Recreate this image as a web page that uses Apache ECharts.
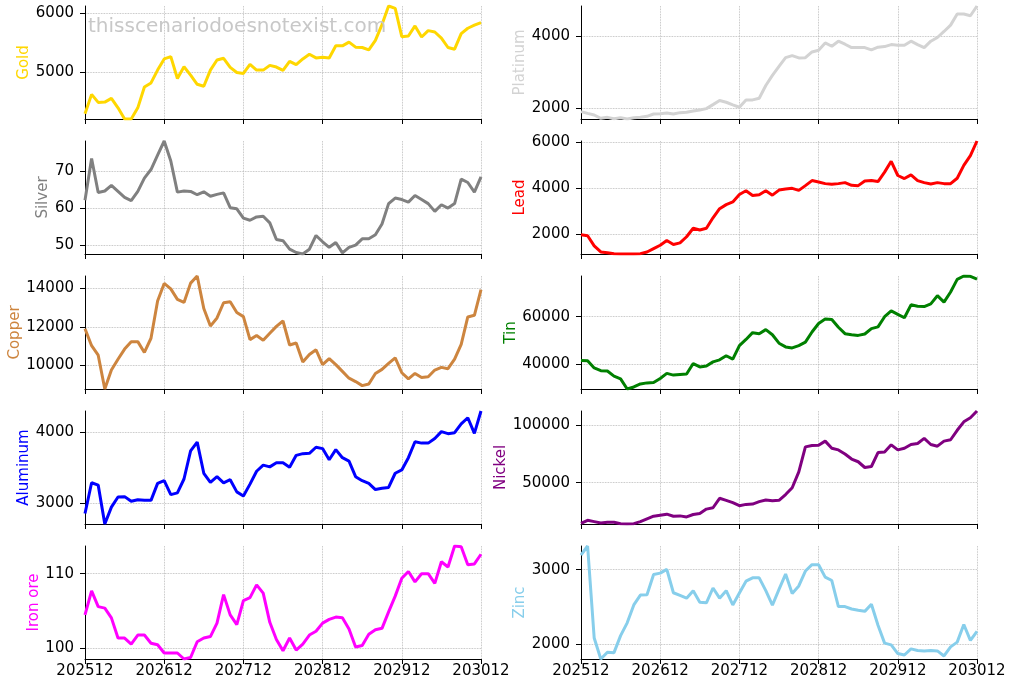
<!DOCTYPE html>
<html>
<head>
<meta charset="utf-8">
<script src="https://cdn.jsdelivr.net/npm/echarts@6/dist/echarts.min.js"></script>
<style>
  html, body { margin: 0; padding: 0; background: #fff; }
  #chart { width: 1013px; height: 688px; }
</style>
</head>
<body>
<div id="chart"></div>
<script>
  // monthly categories 202512 .. 203012
  const months = [];
  for (let y = 2025, m = 12; y * 100 + m <= 203012; m++) {
    if (m > 12) { m = 1; y++; }
    months.push(String(y * 100 + m));
  }

  const gold = [4300,4625,4490,4495,4557,4398,4210,4210,4398,4750,4818,5034,5222,5261,4892,5091,4949,4795,4761,5034,5205,5233,5080,4994,4977,5131,5034,5034,5114,5085,5028,5182,5125,5222,5301,5239,5250,5239,5443,5443,5506,5420,5415,5375,5534,5801,6114,6074,5597,5608,5778,5591,5699,5676,5574,5415,5386,5648,5739,5790,5835];
  const platinum = [1897,1850,1804,1710,1738,1701,1729,1692,1729,1738,1766,1832,1841,1860,1832,1869,1879,1916,1944,1981,2093,2206,2159,2084,2019,2224,2224,2271,2626,2906,3159,3402,3458,3393,3402,3561,3607,3813,3720,3860,3776,3682,3682,3682,3617,3692,3710,3766,3748,3748,3860,3766,3682,3860,3963,4131,4308,4617,4617,4570,4841];
  const silver = [62.2,73.5,64.3,64.7,66.2,64.6,63.0,62.1,64.6,68.2,70.5,74.4,78.2,72.8,64.4,64.7,64.6,63.7,64.5,63.3,63.8,64.2,60.2,59.9,57.4,56.8,57.7,57.9,56.1,51.6,51.3,49.0,48.1,47.7,49.0,52.7,51.0,49.5,50.8,48.0,49.5,50.1,51.8,51.8,52.9,55.8,61.3,62.8,62.4,61.7,63.5,62.4,61.3,59.2,61.0,60.1,61.3,67.9,67.0,64.4,68.5];
  const lead = [1985,1941,1500,1235,1206,1162,1147,1147,1147,1162,1235,1382,1529,1735,1559,1632,1897,2265,2191,2265,2721,3118,3294,3412,3735,3897,3691,3721,3897,3706,3926,3971,4000,3912,4118,4338,4279,4206,4176,4206,4250,4132,4118,4324,4338,4294,4706,5176,4559,4426,4588,4338,4250,4191,4250,4206,4206,4441,5000,5426,6059];
  const copper = [11895,11018,10526,8772,9754,10316,10842,11228,11228,10667,11404,13333,14246,13965,13421,13263,14263,14632,12947,12035,12456,13246,13298,12737,12526,11333,11544,11298,11667,12018,12298,11053,11158,10175,10561,10807,10035,10351,10035,9684,9333,9158,8947,9035,9579,9789,10105,10386,9614,9298,9579,9368,9404,9754,9895,9825,10316,11088,12509,12596,13930];
  const tin = [41571,41429,38429,37286,37143,35000,33857,29571,30429,31714,32143,32286,34000,36143,35429,35714,35857,40286,38857,39286,41000,41857,43571,42143,47857,50429,53286,52857,54571,52429,48857,47286,46857,47857,49286,53571,57143,59000,58857,55571,52857,52429,52143,52714,55000,55714,60000,62429,61000,59571,65000,64429,64286,65429,68857,66143,70429,75714,77143,77000,75857];
  const aluminum = [2857,3290,3257,2710,2948,3090,3095,3029,3052,3043,3043,3281,3319,3124,3148,3343,3738,3862,3424,3295,3376,3290,3333,3162,3105,3271,3452,3538,3514,3571,3571,3510,3676,3700,3705,3790,3771,3614,3757,3643,3595,3376,3319,3281,3195,3214,3224,3424,3471,3643,3867,3848,3848,3914,4010,3981,3995,4119,4205,3986,4300];
  const nickel = [14912,17544,16374,15205,15789,15789,14620,14327,14620,16374,18713,21053,21930,22807,21053,21345,20468,22515,23392,27193,28363,36550,34795,32749,30117,31286,31579,33626,35088,34503,34795,39766,45614,59357,80994,82164,82456,85965,79825,78363,74854,70468,68129,63158,64035,76023,76608,82749,78363,79825,83041,83918,88304,83041,81579,85965,87135,95322,102632,106140,111988];
  const ironOre = [104.5,107.7,105.6,105.4,104.1,101.4,101.4,100.6,101.8,101.8,100.7,100.5,99.4,99.4,99.4,98.6,98.8,100.9,101.4,101.6,103.4,107.2,104.5,103.2,106.4,106.8,108.5,107.4,103.5,101.2,99.7,101.4,99.8,100.6,101.8,102.3,103.4,103.9,104.2,104.1,102.6,100.2,100.4,101.9,102.5,102.7,104.9,107.0,109.4,110.3,108.9,110.0,110.0,108.7,111.6,110.9,113.7,113.6,111.2,111.3,112.6];
  const zinc = [3196,3320,2078,1795,1886,1881,2110,2283,2525,2658,2662,2936,2954,3005,2689,2653,2616,2717,2562,2553,2753,2616,2717,2525,2685,2845,2890,2890,2717,2521,2735,2941,2680,2781,2982,3068,3068,2900,2854,2502,2502,2470,2452,2438,2534,2251,2009,1986,1868,1849,1932,1909,1904,1909,1904,1836,1959,2023,2260,2046,2169];

  // y tick labels per panel
  const goldTicks = [5000, 6000];
  const platinumTicks = [2000, 4000];
  const silverTicks = [50, 60, 70];
  const leadTicks = [2000, 4000, 6000];
  const copperTicks = [10000, 12000, 14000];
  const tinTicks = [40000, 60000];
  const aluminumTicks = [3000, 4000];
  const nickelTicks = [50000, 100000];
  const ironOreTicks = [100, 110];
  const zincTicks = [2000, 3000];

  // panel order: row by row, left then right
  const panels = [
    { name: 'Gold', data: gold, ticks: goldTicks, color: '#FFD700', gap: 49 },
    { name: 'Platinum', data: platinum, ticks: platinumTicks, color: '#D3D3D3', gap: 49 },
    { name: 'Silver', data: silver, ticks: silverTicks, color: '#808080', gap: 28 },
    { name: 'Lead', data: lead, ticks: leadTicks, color: '#FF0000', gap: 49 },
    { name: 'Copper', data: copper, ticks: copperTicks, color: '#CD853F', gap: 59 },
    { name: 'Tin', data: tin, ticks: tinTicks, color: '#008000', gap: 62 },
    { name: 'Aluminum', data: aluminum, ticks: aluminumTicks, color: '#0000FF', gap: 50 },
    { name: 'Nickel', data: nickel, ticks: nickelTicks, color: '#800080', gap: 69 },
    { name: 'Iron ore', data: ironOre, ticks: ironOreTicks, color: '#FF00FF', gap: 39 },
    { name: 'Zinc', data: zinc, ticks: zincTicks, color: '#87CEEB', gap: 50 }
  ];

  const gridLine = { show: true, lineStyle: { color: '#b0b0b0', width: 0.8, type: 'dotted' } };
  const spine = { show: true, lineStyle: { color: '#000', width: 1 } };

  const grid = [], xAxis = [], yAxis = [], series = [];
  panels.forEach((p, i) => {
    const row = Math.floor(i / 2), col = i % 2;
    grid.push({ left: col ? 581 : 85, width: 396, top: 6 + row * 135, height: 113 });
    xAxis.push({
      gridIndex: i,
      type: 'category',
      data: months,
      boundaryGap: false,
      axisLine: spine,
      axisTick: { show: true, interval: 11, length: 5, lineStyle: { color: '#000' } },
      axisLabel: { show: row === 4, interval: 11, margin: 5, fontSize: 15, color: '#000' },
      splitLine: Object.assign({ interval: 11 }, gridLine)
    });
    yAxis.push({
      gridIndex: i,
      type: 'value',
      min: 'dataMin',
      max: 'dataMax',
      name: p.name,
      nameLocation: 'middle',
      nameRotate: 90,
      nameGap: p.gap,
      nameTextStyle: { color: p.color, fontSize: 15 },
      axisLine: spine,
      axisTick: { show: true, length: 5, customValues: p.ticks, lineStyle: { color: '#000' } },
      axisLabel: { customValues: p.ticks, margin: 11, fontSize: 15, color: '#000', formatter: v => String(v) },
      splitLine: gridLine
    });
    series.push({
      name: p.name,
      type: 'line',
      xAxisIndex: i,
      yAxisIndex: i,
      data: p.data,
      showSymbol: false,
      lineStyle: { color: p.color, width: 3 },
      itemStyle: { color: p.color }
    });
  });

  const chart = echarts.init(document.getElementById('chart'));
  chart.setOption({
    animation: false,
    backgroundColor: '#fff',
    textStyle: { fontFamily: 'DejaVu Sans' },
    grid,
    xAxis,
    yAxis,
    series,
    graphic: [{
      type: 'text',
      left: 88,
      top: 17,
      z: 10,
      style: { text: 'thisscenariodoesnotexist.com', fontSize: 20, fontFamily: 'DejaVu Sans', fill: '#c8c8c8' }
    }]
  });
</script>
</body>
</html>
